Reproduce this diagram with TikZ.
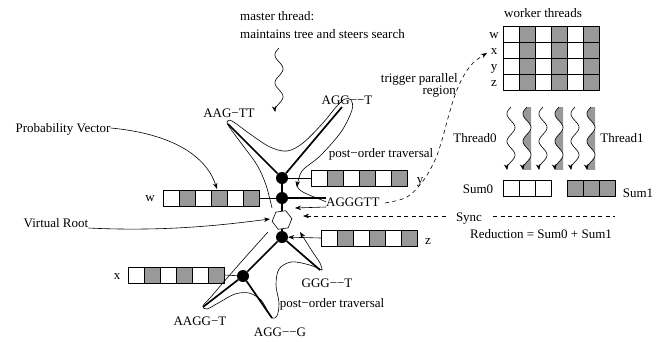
\documentclass[tikz,border=0pt]{standalone}
\usepackage{fontspec}
\setmainfont{Liberation Serif}
\usetikzlibrary{arrows.meta,calc,shapes.geometric}
\definecolor{cellgray}{gray}{0.6}
\newcommand{\wavearrow}[4]{%
  \ifnum#4=1
  \fill[cellgray] plot[domain=0:1,samples=80] ({#1-4*sin(828*\x)},{#2+(#3-#2)*\x}) -- (#1+4,#3) -- (#1+4,#2) -- cycle;
  \fi
  \draw[conn,arr] plot[domain=0:1,samples=80] ({#1-4*sin(828*\x)},{#2+(#3-#2)*\x});
}
\newcommand{\sixvec}[3]{%
  \node[vecbox] (#1) at (#2,#3) {};
  \foreach \k/\c in {0/white,1/cellgray,2/white,3/cellgray,4/white,5/cellgray}
    \draw[cellline,fill=\c] (#2-48+16*\k,#3-8) rectangle ++(16,16);
}
\begin{document}
\begin{tikzpicture}[x=1pt,y=-1pt,
  lbl/.style={font=\fontsize{13}{15}\selectfont, inner sep=0pt, anchor=base},
  thickedge/.style={line width=1.7pt},
  conn/.style={line width=0.6pt},
  cellline/.style={line width=0.8pt},
  arr/.style={-{Stealth[length=6pt,width=4.5pt]}},
  tnode/.style={circle, fill=black, minimum size=12pt, inner sep=0pt},
  vecbox/.style={minimum width=96pt, minimum height=16pt, inner sep=0pt},
  dsh/.style={dash pattern=on 4pt off 3.5pt, line width=0.6pt},
]
\useasboundingbox (0,0) rectangle (662,341);

% ---------- texts ----------
\node[lbl, anchor=base west] (mt1) at (240,20) {master thread:};
\node[lbl, anchor=base west] (mt2) at (240,38) {maintains tree and steers search};
\node[lbl] (wt) at (543,17) {worker threads};
\node[lbl, anchor=base east] (trig1) at (458,82) {trigger parallel};
\node[lbl, anchor=base east] (trig2) at (456,94) {region};
\node[lbl] (pv) at (63,132) {Probability Vector};
\node[lbl] (vr) at (56,227) {Virtual Root};
\node[lbl] (po1) at (381,157) {post−order traversal};
\node[lbl] (po2) at (332,307) {post−order traversal};
\node[lbl] (l1) at (229,117) {AAG−TT};
\node[lbl] (l2) at (347,104) {AGG−−T};
\node[lbl, anchor=base west] (l3) at (326,206) {AGGGTT};
\node[lbl] (l4) at (327,287) {GGG−−T};
\node[lbl] (l5) at (200,325) {AAGG−T};
\node[lbl] (l6) at (280,336) {AGG−−G};
\node[lbl] (th0) at (475,142) {Thread0};
\node[lbl] (th1) at (622,142) {Thread1};
\node[lbl] (s0) at (478,193) {Sum0};
\node[lbl] (s1) at (638,197) {Sum1};
\node[lbl] (sync) at (469,221) {Sync};
\node[lbl] (red) at (541,238) {Reduction = Sum0 + Sum1};

% ---------- vectors ----------
\sixvec{vw}{211}{198}
\sixvec{vy}{359}{178}
\sixvec{vz}{369}{238}
\sixvec{vx}{176}{275}
\node[lbl] (lw) at (150,201) {w};
\node[lbl] (ly) at (420,183) {y};
\node[lbl] (lz) at (428,244) {z};
\node[lbl] (lx) at (117,279) {x};

% ---------- worker grid ----------
\node[minimum width=96pt, minimum height=64pt, inner sep=0pt] (grid) at (551,58) {};
\foreach \r in {0,...,3}
  \foreach \k/\c in {0/white,1/cellgray,2/white,3/cellgray,4/white,5/cellgray}
    \draw[cellline,fill=\c] (503+16*\k,26+16*\r) rectangle ++(16,16);
\node[lbl] (gw) at (494,38) {w};
\node[lbl] (gx) at (494,54) {x};
\node[lbl] (gy) at (494,70) {y};
\node[lbl] (gz) at (494,86) {z};

% ---------- sums ----------
\node[minimum width=48pt, minimum height=16pt, inner sep=0pt] (sum0) at (527,188) {};
\node[minimum width=48pt, minimum height=16pt, inner sep=0pt] (sum1) at (591,188) {};
\foreach \k in {0,1,2} {
  \draw[cellline,fill=white] (503+16*\k,180) rectangle ++(16,16);
  \draw[cellline,fill=cellgray] (567+16*\k,180) rectangle ++(16,16);
}

% ---------- thread waves ----------
\wavearrow{511}{107}{170}{0}
\wavearrow{527}{107}{170}{1}
\wavearrow{543}{107}{170}{0}
\wavearrow{559}{107}{170}{1}
\wavearrow{575}{107}{170}{0}
\wavearrow{591}{107}{170}{1}
% master thread wave
\wavearrow{279}{48}{112}{0}

% ---------- tree ----------
\coordinate (t1) at (228,124);
\coordinate (t2) at (342,107);
\coordinate (t4) at (320,270);
\coordinate (t5) at (203,307);
\coordinate (t6) at (272,318);
\node[draw, regular polygon, regular polygon sides=6, minimum size=20pt, inner sep=0pt, conn, rotate=8] (hex) at (282,220) {};
\node[tnode] (n1) at (282,178) {};
\node[tnode] (n2) at (282,198) {};
\node[tnode] (n3) at (282,237) {};
\node[tnode] (n4) at (243,276) {};
\draw[thickedge] (n1) -- (t1);
\draw[thickedge] (n1) -- (t2);
\draw[thickedge] (n1) -- (n2);
\draw[thickedge] (n2) -- (hex);
\draw[thickedge] (hex) -- (n3);
\draw[thickedge] (n2) -- (l3.west |- n2);
\draw[thickedge] (n3) -- (n4);
\draw[thickedge] (n3) -- (t4);
\draw[thickedge] (n4) -- (t5);
\draw[thickedge] (n4) -- (t6);

% vector connections
\draw[conn] (vw.east) -- (n2);
\draw[conn] (vy.west) -- (n1);
\draw[conn] (vx.east) -- (n4);
\draw[conn,arr] (vz.west) -- (n3);

% ---------- traversal curves ----------
\draw[conn,arr] plot[smooth, tension=0.55] coordinates {(272,208) (266,185) (257,165) (241,143) (230,128) (227,122) (232,121) (250,134) (270,147) (287,151) (303,143) (322,124) (337,106) (345,99) (351,100) (352,110) (341,132) (320,156) (302,171) (297,187)};
\draw[conn] (296,182) .. controls (297,192) and (305,193) .. (l3.west);
\draw[conn,arr] plot[smooth, tension=0.55] coordinates {(268,232) (250,252) (228,277) (210,298) (203,306) (207,309) (220,302) (235,294) (249,293) (261,300) (268,312) (272,318) (277,316) (279,303) (276,285) (279,269) (291,262) (306,264) (318,268) (322,270) (320,263) (312,251) (300,232)};

% ---------- other arrows ----------
\coordinate (hexL) at (270,219);
\draw[conn,arr] (vr.east |- 0,228) .. controls (170,232) and (230,224) .. (hexL);
\coordinate (pvtip) at (217,189);
\draw[conn,arr] (pv.east |- 0,128) .. controls (165,133) and (205,152) .. (pvtip);
\coordinate (aroot) at (295,208);
\draw[conn,arr] (l3.west |- 0,207) -- (aroot);
\coordinate (xin) at (487,53);
\draw[dsh,arr] plot[smooth, tension=0.6] coordinates {(385,203) (407,197) (423,181) (435,160) (442,140) (448,118) (455,95) (463,77) (473,63) (487,53)};
\coordinate (syncL) at (303,216);
\draw[dsh,arr] (sync.west |- 0,216) ++(-10,0) -- (syncL);
\draw[dsh] (493,216) -- (615,216);
\end{tikzpicture}
\end{document}
